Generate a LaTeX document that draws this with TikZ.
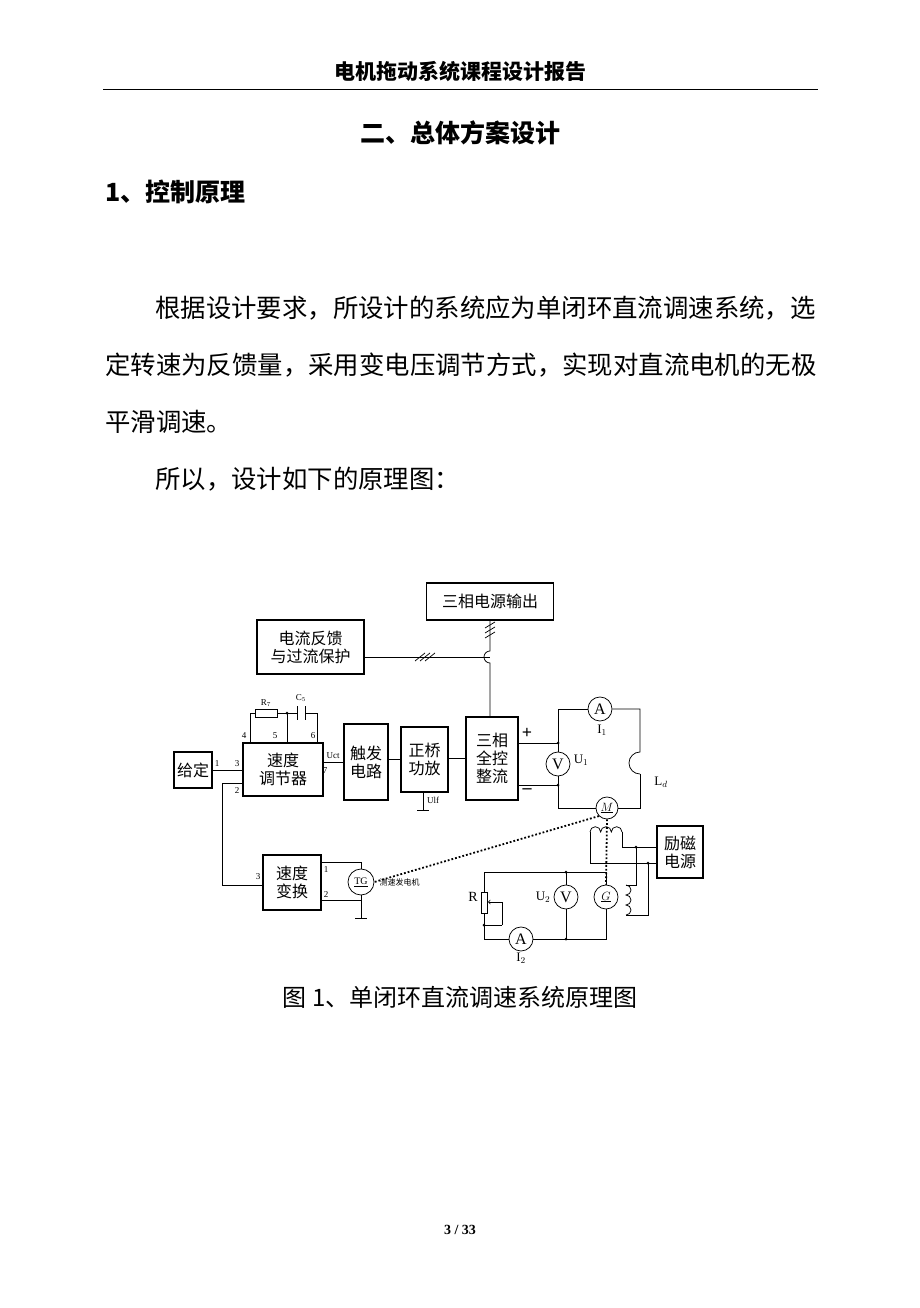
\documentclass[tikz,border=0pt]{standalone}
\usepackage{fontspec}
\setmainfont{Liberation Serif}
\newfontfamily\cjk{Noto Sans CJK SC}
\usetikzlibrary{positioning}
\begin{document}
\begin{tikzpicture}[x=1pt,y=-1pt,line width=0.75pt,
    blk/.style={draw,line width=1.3pt,align=center,inner sep=0pt,font=\cjk\fontsize{16}{18}\selectfont},
    meter/.style={draw,circle,minimum size=24pt,inner sep=0pt,font=\fontsize{16}{16}\selectfont},
    pin/.style={font=\fontsize{9}{9}\selectfont,inner sep=1pt},
    body/.style={font=\cjk\fontsize{25.4}{25.4}\selectfont,anchor=west,inner sep=0pt}]
    \useasboundingbox (0,0) rectangle (920,1308);
    % page text
    \node[font=\cjk\bfseries\fontsize{21}{21}\selectfont] (head) at (460,72) {电机拖动系统课程设计报告};
    \draw[thick] (103,89) -- (818,89);
    \node[font=\cjk\bfseries\fontsize{25}{25}\selectfont] (sec) at (460,133) {二、总体方案设计};
    \node[body,font=\cjk\bfseries\fontsize{25}{25}\selectfont] (sub) at (105,192) {1、控制原理};
    \node[body] (p1) at (155,308) {根据设计要求，所设计的系统应为单闭环直流调速系统，选};
    \node[body] (p2) at (105,365) {定转速为反馈量，采用变电压调节方式，实现对直流电机的无极};
    \node[body] (p3) at (105,422) {平滑调速。};
    \node[body] (p4) at (155,479) {所以，设计如下的原理图：};
    \node[font=\cjk\fontsize{24}{24}\selectfont] (cap) at (460,997) {图 1、单闭环直流调速系统原理图};
    \node[font=\bfseries\fontsize{14}{14}\selectfont] (pg) at (460,1230) {3 / 33};
    % blocks
    \node[blk,minimum width=127pt,minimum height=37pt] (src) at (490,601.5) {三相电源输出};
    \node[blk,minimum width=107pt,minimum height=54pt] (prot) at (310.5,647) {电流反馈\\与过流保护};
    \node[blk,minimum width=80pt,minimum height=53pt] (asr) at (283,769.5) {速度\\调节器};
    \node[blk,minimum width=38pt,minimum height=36pt] (ref) at (193,770) {给定};
    \node[blk,minimum width=44pt,minimum height=76pt] (trig) at (366,762) {触发\\电路};
    \node[blk,minimum width=47pt,minimum height=65pt] (amp) at (424.5,759.5) {正桥\\功放};
    \node[blk,minimum width=52pt,minimum height=83pt] (rect) at (492,758.5) {三相\\全控\\整流};
    \node[blk,minimum width=58pt,minimum height=55pt] (fbk) at (292,882.5) {速度\\变换};
    \node[blk,minimum width=46pt,minimum height=52pt] (exc) at (680,852) {励磁\\电源};
    % meters
    \node[meter] (v1) at (558,764) {V};
    \node[meter] (a1) at (600,709) {A};
    \node[meter,minimum size=22pt,font=\fontsize{12}{12}\selectfont] (mot) at (607,808) {$\underline{M}$};
    \node[meter,minimum size=24pt,font=\fontsize{12}{12}\selectfont] (gen) at (606,897) {$\underline{G}$};
    \node[meter] (v2) at (566,897) {V};
    \node[meter] (a2) at (521,939) {A};
    \node[meter,minimum size=26pt,font=\fontsize{10}{10}\selectfont] (tg) at (361,882) {$\underline{\mathrm{TG}}$};
    % labels
    \node[font=\fontsize{13}{13}\selectfont] (li1) at (602,730) {I$_1$};
    \node[font=\fontsize{13}{13}\selectfont] (lu1) at (581,760) {U$_1$};
    \node[font=\fontsize{13}{13}\selectfont] (lld) at (661,782) {L$_d$};
    \node[font=\fontsize{13}{13}\selectfont] (lu2) at (543,897) {U$_2$};
    \node[font=\fontsize{13}{13}\selectfont] (li2) at (521,958) {I$_2$};
    \node[font=\fontsize{14}{14}\selectfont] (lr) at (473,897) {R};
    \node[font=\bfseries\fontsize{18}{18}\selectfont] (lp) at (527,733) {+};
    \node[font=\bfseries\fontsize{18}{18}\selectfont] (lm) at (527,791) {--};
    \node[font=\cjk\fontsize{8}{8}\selectfont,anchor=west] (ltg) at (376,882) {测速发电机};
    \node[pin] at (266,703) {R$_7$};
    \node[pin] at (301,698) {C$_5$};
    \node[pin] at (244,736) {4};
    \node[pin] at (275,736) {5};
    \node[pin] at (313,736) {6};
    \node[pin] at (237,764) {3};
    \node[pin] at (237,791) {2};
    \node[pin] at (217,764) {1};
    \node[pin] at (333,756) {Uct};
    \node[pin] at (325,771) {7};
    \node[pin] at (433,800) {Ulf};
    \node[pin] at (258,877) {3};
    \node[pin] at (326,870) {1};
    \node[pin] at (326,895) {2};
    % supply and feedback
    \draw (src.south) -- (490,651) arc[start angle=270,end angle=90,radius=6] -- (490,717);
    \draw (364,657) -- (490,657);
    \foreach \k in {-5,0,5} {
        \draw (485,630+\k+3) -- (495,630+\k-3);
        \draw (420+\k,661) -- (430+\k,653);}
    % regulator network
    \draw (250,743) -- (250,713) -- (255,713);
    \draw (255,709) rectangle (277,717);
    \draw (277,713) -- (297,713) (305,713) -- (317,713) -- (317,743);
    \draw (297,706) -- (297,720) (305,706) -- (305,720);
    \draw (287,713) -- (287,743);
    \fill (287,713) circle (1.5);
    % forward path
    \draw (ref.east) -- (asr.west |- ref.east);
    \draw (asr.east |- trig.west) -- (trig.west);
    \draw (trig.east |- amp.west) -- (amp.west);
    \draw (amp.east |- rect.west) -- (rect.west);
    \draw (423,792) -- (423,810) (417,810) -- (429,810);
    \draw (243,783) -- (222,783) -- (222,885) -- (263,885);
    % armature loop
    \draw (518,743) -- (558,743) (518,785) -- (558,785);
    \draw (v1.north) -- (558,709) -- (a1.west);
    \draw (a1.east) -- (640,709) -- (640,752)
        arc[start angle=270,end angle=90,radius=11];
    \draw (640,774) -- (640,808) -- (mot.east);
    \draw (v1.south) -- (558,808) -- (mot.west);
    \fill (558,743) circle (1.5) (558,785) circle (1.5);
    % field windings
    \draw (590,832) \foreach \i in {1,2,3} {arc[start angle=180,end angle=360,radius=5.33]};
    \draw (590,832) -- (590,863) -- (657,863);
    \draw (622,832) -- (622,847) -- (657,847);
    \draw (626,885) \foreach \i in {1,2,3} {arc[start angle=270,end angle=450,radius=5]};
    \draw (626,885) -- (636,885) -- (636,847) (626,915) -- (648,915) -- (648,863);
    \fill (636,847) circle (1.5) (648,863) circle (1.5);
    % generator loop
    \draw (gen.north) -- (606,872) -- (484,872) -- (484,892);
    \draw (484,913) -- (484,939) -- (a2.west) (a2.east) -- (606,939) -- (gen.south);
    \draw[fill=white] (481,892) rectangle (487,913);
    \draw[->] (502,925) -- (502,902) -- (488,902);
    \draw (484,925) -- (502,925);
    \draw (v2.north) -- (566,872) (v2.south) -- (566,939);
    \fill (566,872) circle (1.5) (566,939) circle (1.5) (484,925) circle (1.5);
    % speed measurement
    \draw (321,862) -- (361,862) -- (tg.north);
    \draw (321,900) -- (361,900) -- (tg.south) (tg.south) -- (361,918) (355,918) -- (367,918);
    \draw[dotted,line width=1.8pt] (mot.south west) -- (tg.east);
    \draw[dotted,line width=1.8pt] (mot.south) -- (gen.north);
\end{tikzpicture}
\end{document}
